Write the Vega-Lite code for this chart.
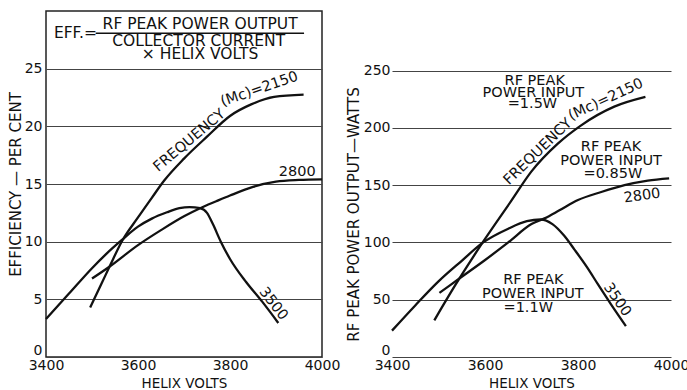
{
  "$schema": "https://vega.github.io/schema/vega-lite/v6.json",
  "background": "white",
  "padding": {"left": 7, "top": 10, "right": 0, "bottom": 0},
  "bounds": "flush",
  "spacing": 70,
  "config": {
    "font": "DejaVu Sans",
    "view": {"stroke": "#222", "strokeWidth": 1.5},
    "axis": {
      "labelFont": "DejaVu Sans", "labelFontSize": 14, "labelColor": "#111",
      "titleFont": "DejaVu Sans", "titleFontSize": 15, "titleFontWeight": "normal", "titleColor": "#111",
      "ticks": false, "domain": false, "gridColor": "#444", "gridWidth": 1.2, "gridOpacity": 1, "labelFlush": false
    },
    "axisX": {"titleFontSize": 13.5}
  },
  "datasets": {
    "leftText": [
      {"x": 3464, "y": 28.1, "t": "EFF.=", "a": 0},
      {"x": 3735, "y": 28.85, "t": "RF PEAK POWER OUTPUT", "a": 0},
      {"x": 3732, "y": 27.4, "t": "COLLECTOR CURRENT", "a": 0},
      {"x": 3735, "y": 26.25, "t": "× HELIX  VOLTS", "a": 0}
    ],
    "leftLabels": [
      {"x": 3712, "y": 18.75, "t": "FREQUENCY", "a": -40},
      {"x": 3864, "y": 23.2, "t": "(Mc)=2150", "a": -19},
      {"x": 3946, "y": 16.05, "t": "2800", "a": 0},
      {"x": 3894, "y": 4.6, "t": "3500", "a": 52}
    ],
    "rightText": [
      {"x": 3707, "y": 241.2, "t": "RF  PEAK", "a": 0},
      {"x": 3704, "y": 230.5, "t": "POWER INPUT", "a": 0},
      {"x": 3702, "y": 220.5, "t": "=1.5W", "a": 0},
      {"x": 3871, "y": 183.6, "t": "RF PEAK", "a": 0},
      {"x": 3871, "y": 171.1, "t": "POWER INPUT", "a": 0},
      {"x": 3875, "y": 159.5, "t": "=0.85W", "a": 0},
      {"x": 3704, "y": 67, "t": "RF PEAK", "a": 0},
      {"x": 3703, "y": 54.7, "t": "POWER INPUT", "a": 0},
      {"x": 3693, "y": 43, "t": "=1.1W", "a": 0},
      {"x": 3938, "y": 140.5, "t": "2800", "a": -8},
      {"x": 3884, "y": 49.8, "t": "3500", "a": 55},
      {"x": 3714, "y": 179, "t": "FREQUENCY", "a": -44},
      {"x": 3860, "y": 224.5, "t": "(Mc)=2150", "a": -25}
    ]
  },
  "hconcat": [
    {
      "width": 276,
      "height": 346,
      "encoding": {
        "x": {"field": "x", "type": "quantitative",
          "scale": {"domain": [3400, 4000], "nice": false, "zero": false},
          "axis": {"values": [3400, 3600, 3800, 4000], "format": "d", "grid": false, "labelPadding": 1, "title": "HELIX  VOLTS", "titleY": 26.5, "titleBaseline": "middle"}},
        "y": {"field": "y", "type": "quantitative",
          "scale": {"domain": [0, 30], "nice": false},
          "axis": {"values": [0, 5, 10, 15, 20, 25], "format": "d", "grid": true, "labelPadding": 4,
            "labelBaseline": {"condition": {"test": "datum.value === 0", "value": "bottom"}, "value": "middle"},
            "title": "EFFICIENCY — PER CENT", "titleX": -31, "titleBaseline": "middle"}}
      },
      "layer": [
        {
          "data": {"values": [{"x": 3500}, {"x": 3600}, {"x": 3700}, {"x": 3800}, {"x": 3900}]},
          "mark": {"type": "rule", "color": "#444", "strokeWidth": 1.2},
          "encoding": {"y": {"datum": 0, "type": "quantitative"}, "y2": {"datum": 25}}
        },
        {
          "data": {"values": [
            {"s": "2150", "x": 3496, "y": 4.3}, {"s": "2150", "x": 3520, "y": 6.3}, {"s": "2150", "x": 3540, "y": 8.0},
            {"s": "2150", "x": 3566, "y": 10.1}, {"s": "2150", "x": 3600, "y": 12.1}, {"s": "2150", "x": 3630, "y": 13.8},
            {"s": "2150", "x": 3657, "y": 15.3}, {"s": "2150", "x": 3700, "y": 17.2}, {"s": "2150", "x": 3750, "y": 19.1},
            {"s": "2150", "x": 3800, "y": 20.9}, {"s": "2150", "x": 3846, "y": 21.9}, {"s": "2150", "x": 3896, "y": 22.55},
            {"s": "2150", "x": 3960, "y": 22.75},
            {"s": "3500", "x": 3400, "y": 3.3}, {"s": "3500", "x": 3450, "y": 5.5}, {"s": "3500", "x": 3500, "y": 7.7},
            {"s": "3500", "x": 3530, "y": 8.9}, {"s": "3500", "x": 3565, "y": 10.15}, {"s": "3500", "x": 3600, "y": 11.3},
            {"s": "3500", "x": 3630, "y": 12.0}, {"s": "3500", "x": 3663, "y": 12.55}, {"s": "3500", "x": 3690, "y": 12.9},
            {"s": "3500", "x": 3712, "y": 13.0}, {"s": "3500", "x": 3735, "y": 12.9}, {"s": "3500", "x": 3750, "y": 12.5},
            {"s": "3500", "x": 3763, "y": 11.5}, {"s": "3500", "x": 3780, "y": 10.0}, {"s": "3500", "x": 3800, "y": 8.5},
            {"s": "3500", "x": 3835, "y": 6.5}, {"s": "3500", "x": 3870, "y": 4.8}, {"s": "3500", "x": 3905, "y": 2.95},
            {"s": "2800", "x": 3500, "y": 6.8}, {"s": "2800", "x": 3537, "y": 7.8}, {"s": "2800", "x": 3600, "y": 9.7},
            {"s": "2800", "x": 3650, "y": 11.0}, {"s": "2800", "x": 3700, "y": 12.2}, {"s": "2800", "x": 3735, "y": 12.9},
            {"s": "2800", "x": 3770, "y": 13.5}, {"s": "2800", "x": 3800, "y": 14.0}, {"s": "2800", "x": 3850, "y": 14.75},
            {"s": "2800", "x": 3900, "y": 15.2}, {"s": "2800", "x": 3950, "y": 15.35}, {"s": "2800", "x": 4000, "y": 15.4}
          ]},
          "mark": {"type": "line", "interpolate": "monotone", "color": "#111", "strokeWidth": 2.3},
          "encoding": {"detail": {"field": "s"}}
        },
        {
          "data": {"values": [{"x": 3508, "x2": 3961, "y": 28.07}]},
          "mark": {"type": "rule", "color": "#111", "strokeWidth": 1.3},
          "encoding": {"x2": {"field": "x2"}}
        },
        {
          "data": {"name": "leftText"},
          "mark": {"type": "text", "font": "DejaVu Sans", "fontSize": 15.5, "align": "center", "baseline": "middle", "color": "#111"},
          "encoding": {"text": {"field": "t"}, "angle": {"field": "a", "type": "quantitative", "scale": null}}
        },
        {
          "data": {"name": "leftLabels"},
          "mark": {"type": "text", "font": "DejaVu Sans", "fontSize": 14.5, "align": "center", "baseline": "middle", "color": "#111"},
          "encoding": {"text": {"field": "t"}, "angle": {"field": "a", "type": "quantitative", "scale": null}}
        }
      ]
    },
    {
      "width": 279,
      "height": 346,
      "view": {"stroke": null},
      "encoding": {
        "x": {"field": "x", "type": "quantitative",
          "scale": {"domain": [3400, 4000], "nice": false, "zero": false},
          "axis": {"values": [3400, 3600, 3800, 4000], "format": "d", "grid": false, "labelPadding": 1, "title": "HELIX  VOLTS", "titleY": 26.5, "titleBaseline": "middle"}},
        "y": {"field": "y", "type": "quantitative",
          "scale": {"domain": [0, 302], "nice": false},
          "axis": {"values": [0, 50, 100, 150, 200, 250], "format": "d", "grid": true, "labelPadding": 2,
            "labelBaseline": {"condition": {"test": "datum.value === 0", "value": "bottom"}, "value": "middle"},
            "title": "RF  PEAK  POWER  OUTPUT—WATTS", "titleX": -38.5, "titleY": 203, "titleBaseline": "middle"}}
      },
      "layer": [
        {
          "data": {"values": [{"x": 3400}, {"x": 3500}, {"x": 3600}, {"x": 3700}, {"x": 3800}, {"x": 3900}, {"x": 4000}]},
          "mark": {"type": "rule", "color": "#444", "strokeWidth": 1.2},
          "encoding": {"y": {"datum": 0, "type": "quantitative"}, "y2": {"datum": 250}}
        },
        {
          "data": {"values": [
            {"s": "2150", "x": 3491, "y": 32}, {"s": "2150", "x": 3535, "y": 62}, {"s": "2150", "x": 3595, "y": 100},
            {"s": "2150", "x": 3656, "y": 136}, {"s": "2150", "x": 3700, "y": 162}, {"s": "2150", "x": 3756, "y": 186},
            {"s": "2150", "x": 3806, "y": 202}, {"s": "2150", "x": 3878, "y": 218.5}, {"s": "2150", "x": 3945, "y": 227},
            {"s": "3500", "x": 3400, "y": 23}, {"s": "3500", "x": 3450, "y": 45}, {"s": "3500", "x": 3500, "y": 66},
            {"s": "3500", "x": 3550, "y": 84}, {"s": "3500", "x": 3596, "y": 100}, {"s": "3500", "x": 3650, "y": 112},
            {"s": "3500", "x": 3690, "y": 118.5}, {"s": "3500", "x": 3720, "y": 120}, {"s": "3500", "x": 3745, "y": 116},
            {"s": "3500", "x": 3770, "y": 106}, {"s": "3500", "x": 3792, "y": 94}, {"s": "3500", "x": 3820, "y": 78},
            {"s": "3500", "x": 3842, "y": 64}, {"s": "3500", "x": 3871, "y": 46}, {"s": "3500", "x": 3903, "y": 27},
            {"s": "2800", "x": 3502, "y": 56}, {"s": "2800", "x": 3550, "y": 70}, {"s": "2800", "x": 3598, "y": 84},
            {"s": "2800", "x": 3650, "y": 100}, {"s": "2800", "x": 3700, "y": 116}, {"s": "2800", "x": 3728, "y": 121},
            {"s": "2800", "x": 3760, "y": 128}, {"s": "2800", "x": 3800, "y": 137}, {"s": "2800", "x": 3850, "y": 144},
            {"s": "2800", "x": 3900, "y": 150}, {"s": "2800", "x": 3950, "y": 154}, {"s": "2800", "x": 3996, "y": 156}
          ]},
          "mark": {"type": "line", "interpolate": "monotone", "color": "#111", "strokeWidth": 2.3},
          "encoding": {"detail": {"field": "s"}}
        },
        {
          "data": {"name": "rightText"},
          "mark": {"type": "text", "font": "DejaVu Sans", "fontSize": 14.5, "align": "center", "baseline": "middle", "color": "#111"},
          "encoding": {"text": {"field": "t"}, "angle": {"field": "a", "type": "quantitative", "scale": null}}
        }
      ]
    }
  ]
}
